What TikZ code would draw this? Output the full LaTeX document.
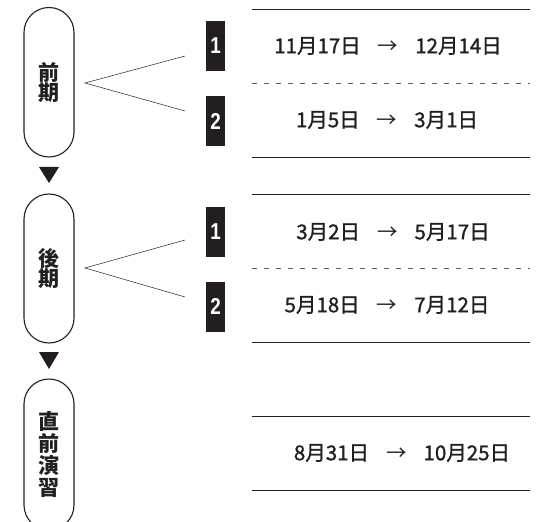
\documentclass[tikz,border=0pt]{standalone}
\usepackage{fontspec}
\newfontfamily\jp{Noto Sans CJK JP}
\newfontfamily\jpm{Noto Sans CJK JP}[FakeBold=1.2]
\newfontfamily\lib{Liberation Sans}
\definecolor{ink}{HTML}{231F20}
\definecolor{dashgray}{HTML}{5A5A5A}
\newcommand{\toarrow}{\hspace{17pt}{\jp→}\hspace{17pt}}
\newcommand{\boxnum}[1]{\scalebox{0.82}[1]{#1}}
\begin{document}
\begin{tikzpicture}[x=1pt,y=1pt,
  phase/.style={draw=ink, line width=1.1pt, rounded corners=25pt, minimum width=50pt,
    inner sep=0pt, align=center, text=ink},
  plabel/.style={font=\jp\bfseries\fontsize{21}{20}\selectfont},
  numbox/.style={fill=ink, text=white, minimum width=19pt, minimum height=50pt, inner sep=0pt,
    font=\lib\bfseries\fontsize{23}{23}\selectfont},
  date/.style={text=ink, inner sep=0pt, font=\jpm\fontsize{20.5}{20.5}\selectfont},
  rule/.style={draw=ink, line width=0.9pt},
  dashrule/.style={draw=dashgray, line width=0.8pt, dash pattern=on 5pt off 7pt},
  branch/.style={draw=ink, line width=0.5pt},
  tri/.style={fill=ink}
]
\useasboundingbox (0,0) rectangle (537,-521);

% phases
\node[phase, plabel, minimum height=149.5pt] (p1) at (49,-82.25) {前\\期};
\node[phase, plabel, minimum height=149pt] (p2) at (49,-268.5) {後\\期};
\node[phase, font=\jp\bfseries\fontsize{21}{22.3}\selectfont, minimum height=151pt] (p3) at (49,-454.5) {直\\前\\演\\習};

% down triangles
\fill[tri] (39,-167) -- (59,-167) -- (49,-183) -- cycle;
\fill[tri] (39,-352) -- (59,-352) -- (49,-369) -- cycle;

% branches
\coordinate (a1) at (85,-83);
\coordinate (a1u) at (185,-56);
\coordinate (a1d) at (185,-111);
\draw[branch] (a1u) -- (a1) -- (a1d);
\coordinate (a2) at (85,-268);
\coordinate (a2u) at (185,-240);
\coordinate (a2d) at (185,-297);
\draw[branch] (a2u) -- (a2) -- (a2d);

% number boxes
\node[numbox] (b11) at (215.5,-46) {\boxnum{1}};
\node[numbox] (b12) at (215.5,-121) {\boxnum{2}};
\node[numbox] (b21) at (215.5,-232) {\boxnum{1}};
\node[numbox] (b22) at (215.5,-306.5) {\boxnum{2}};

% rules
\coordinate (l1a) at (252,-9);   \coordinate (l1b) at (530,-9);
\coordinate (l2a) at (252,-83);  \coordinate (l2b) at (530,-83);
\coordinate (l3a) at (252,-157); \coordinate (l3b) at (530,-157);
\coordinate (l4a) at (252,-194); \coordinate (l4b) at (530,-194);
\coordinate (l5a) at (252,-268); \coordinate (l5b) at (530,-268);
\coordinate (l6a) at (252,-342); \coordinate (l6b) at (530,-342);
\coordinate (l7a) at (252,-416); \coordinate (l7b) at (530,-416);
\coordinate (l8a) at (252,-490); \coordinate (l8b) at (530,-490);
\draw[rule] (l1a) -- (l1b);
\draw[dashrule] (l2a) -- (l2b);
\draw[rule] (l3a) -- (l3b);
\draw[rule] (l4a) -- (l4b);
\draw[dashrule] (l5a) -- (l5b);
\draw[rule] (l6a) -- (l6b);
\draw[rule] (l7a) -- (l7b);
\draw[rule] (l8a) -- (l8b);

% dates
\node[date] (d11) at (388,-46) {11月17日\toarrow 12月14日};
\node[date] (d12) at (387,-120) {1月5日\toarrow 3月1日};
\node[date] (d21) at (393,-232) {3月2日\toarrow 5月17日};
\node[date] (d22) at (387,-305) {5月18日\toarrow 7月12日};
\node[date] (d3) at (402,-453) {8月31日\toarrow 10月25日};
\end{tikzpicture}
\end{document}
